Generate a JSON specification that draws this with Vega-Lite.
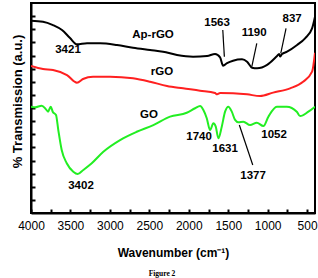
{
  "$schema": "https://vega.github.io/schema/vega-lite/v6.json",
  "width": 284,
  "height": 210,
  "autosize": "none",
  "padding": {"left": 31, "top": 3, "right": 3, "bottom": 65},
  "background": "white",
  "config": {
    "font": "Liberation Sans",
    "view": {"stroke": "#000", "strokeWidth": 2},
    "axis": {"grid": false, "domainColor": "#000", "domainWidth": 2, "tickColor": "#000", "tickWidth": 2, "labelColor": "#000", "titleColor": "#000"}
  },
  "title": {"text": "Figure 2", "orient": "bottom", "anchor": "middle", "font": "Liberation Serif", "fontSize": 7.5, "fontWeight": "bold", "color": "#000", "dx": -11, "offset": 12},
  "datasets": {
    "spectra": [
      {"w": 4000, "t": 14.65, "s": "Ap-rGO"}, {"w": 3848, "t": 14.58, "s": "Ap-rGO"}, {"w": 3721, "t": 14.32, "s": "Ap-rGO"}, {"w": 3607, "t": 13.94, "s": "Ap-rGO"}, {"w": 3505, "t": 13.33, "s": "Ap-rGO"}, {"w": 3417, "t": 12.85, "s": "Ap-rGO"}, {"w": 3290, "t": 12.93, "s": "Ap-rGO"}, {"w": 3125, "t": 12.93, "s": "Ap-rGO"}, {"w": 2910, "t": 12.8, "s": "Ap-rGO"}, {"w": 2707, "t": 12.59, "s": "Ap-rGO"}, {"w": 2491, "t": 12.42, "s": "Ap-rGO"}, {"w": 2326, "t": 12.29, "s": "Ap-rGO"}, {"w": 2149, "t": 12.04, "s": "Ap-rGO"}, {"w": 1946, "t": 11.91, "s": "Ap-rGO"}, {"w": 1768, "t": 11.96, "s": "Ap-rGO"}, {"w": 1667, "t": 12.11, "s": "Ap-rGO"}, {"w": 1603, "t": 11.86, "s": "Ap-rGO"}, {"w": 1565, "t": 11.22, "s": "Ap-rGO"}, {"w": 1515, "t": 11.41, "s": "Ap-rGO"}, {"w": 1439, "t": 11.6, "s": "Ap-rGO"}, {"w": 1325, "t": 11.71, "s": "Ap-rGO"}, {"w": 1261, "t": 11.53, "s": "Ap-rGO"}, {"w": 1198, "t": 11.07, "s": "Ap-rGO"}, {"w": 1134, "t": 11.02, "s": "Ap-rGO"}, {"w": 1007, "t": 11.28, "s": "Ap-rGO"}, {"w": 881, "t": 11.96, "s": "Ap-rGO"}, {"w": 855, "t": 12.11, "s": "Ap-rGO"}, {"w": 843, "t": 11.92, "s": "Ap-rGO"}, {"w": 818, "t": 12.11, "s": "Ap-rGO"}, {"w": 754, "t": 12.29, "s": "Ap-rGO"}, {"w": 627, "t": 12.8, "s": "Ap-rGO"}, {"w": 526, "t": 13.31, "s": "Ap-rGO"}, {"w": 437, "t": 14.07, "s": "Ap-rGO"}, {"w": 400, "t": 14.96, "s": "Ap-rGO"},
      {"w": 4000, "t": 11.2, "s": "rGO"}, {"w": 3848, "t": 10.97, "s": "rGO"}, {"w": 3721, "t": 10.9, "s": "rGO"}, {"w": 3544, "t": 10.51, "s": "rGO"}, {"w": 3417, "t": 9.93, "s": "rGO"}, {"w": 3341, "t": 10.21, "s": "rGO"}, {"w": 3214, "t": 10.39, "s": "rGO"}, {"w": 2998, "t": 10.39, "s": "rGO"}, {"w": 2707, "t": 10.26, "s": "rGO"}, {"w": 2491, "t": 10.0, "s": "rGO"}, {"w": 2276, "t": 9.68, "s": "rGO"}, {"w": 2073, "t": 9.5, "s": "rGO"}, {"w": 1857, "t": 9.32, "s": "rGO"}, {"w": 1667, "t": 9.14, "s": "rGO"}, {"w": 1641, "t": 9.04, "s": "rGO"}, {"w": 1603, "t": 9.14, "s": "rGO"}, {"w": 1439, "t": 9.12, "s": "rGO"}, {"w": 1261, "t": 9.04, "s": "rGO"}, {"w": 1096, "t": 8.91, "s": "rGO"}, {"w": 931, "t": 9.17, "s": "rGO"}, {"w": 716, "t": 9.5, "s": "rGO"}, {"w": 551, "t": 10.0, "s": "rGO"}, {"w": 437, "t": 10.77, "s": "rGO"}, {"w": 400, "t": 12.21, "s": "rGO"},
      {"w": 4000, "t": 8.1, "s": "GO"}, {"w": 3949, "t": 8.05, "s": "GO"}, {"w": 3864, "t": 8.18, "s": "GO"}, {"w": 3810, "t": 7.9, "s": "GO"}, {"w": 3784, "t": 7.72, "s": "GO"}, {"w": 3750, "t": 8.1, "s": "GO"}, {"w": 3725, "t": 7.72, "s": "GO"}, {"w": 3683, "t": 7.47, "s": "GO"}, {"w": 3654, "t": 6.32, "s": "GO"}, {"w": 3611, "t": 4.8, "s": "GO"}, {"w": 3547, "t": 3.79, "s": "GO"}, {"w": 3464, "t": 3.15, "s": "GO"}, {"w": 3408, "t": 2.97, "s": "GO"}, {"w": 3337, "t": 3.28, "s": "GO"}, {"w": 3230, "t": 3.79, "s": "GO"}, {"w": 3083, "t": 4.67, "s": "GO"}, {"w": 2871, "t": 5.56, "s": "GO"}, {"w": 2660, "t": 6.19, "s": "GO"}, {"w": 2449, "t": 6.7, "s": "GO"}, {"w": 2237, "t": 7.34, "s": "GO"}, {"w": 2026, "t": 7.64, "s": "GO"}, {"w": 1920, "t": 7.98, "s": "GO"}, {"w": 1857, "t": 8.15, "s": "GO"}, {"w": 1815, "t": 7.85, "s": "GO"}, {"w": 1772, "t": 7.22, "s": "GO"}, {"w": 1730, "t": 6.32, "s": "GO"}, {"w": 1688, "t": 6.83, "s": "GO"}, {"w": 1658, "t": 6.58, "s": "GO"}, {"w": 1625, "t": 5.69, "s": "GO"}, {"w": 1582, "t": 6.58, "s": "GO"}, {"w": 1540, "t": 7.72, "s": "GO"}, {"w": 1498, "t": 8.1, "s": "GO"}, {"w": 1455, "t": 7.72, "s": "GO"}, {"w": 1413, "t": 7.09, "s": "GO"}, {"w": 1371, "t": 6.91, "s": "GO"}, {"w": 1308, "t": 6.96, "s": "GO"}, {"w": 1223, "t": 6.7, "s": "GO"}, {"w": 1138, "t": 6.88, "s": "GO"}, {"w": 1054, "t": 6.63, "s": "GO"}, {"w": 991, "t": 7.34, "s": "GO"}, {"w": 884, "t": 8.1, "s": "GO"}, {"w": 758, "t": 8.1, "s": "GO"}, {"w": 631, "t": 7.72, "s": "GO"}, {"w": 589, "t": 7.39, "s": "GO"}, {"w": 484, "t": 7.72, "s": "GO"}, {"w": 400, "t": 8.1, "s": "GO"}
    ],
    "leaders": [
      {"w": 1549, "t": 11.91, "w2": 1569, "t2": 13.94},
      {"w": 1201, "t": 11.15, "w2": 1138, "t2": 12.93},
      {"w": 834, "t": 12.17, "w2": 767, "t2": 14.07},
      {"w": 1359, "t": 6.7, "w2": 1189, "t2": 3.66}
    ],
    "labels": [
      {"w": 3531, "t": 12.42, "label": "3421"},
      {"w": 2453, "t": 13.56, "label": "Ap-rGO"},
      {"w": 1641, "t": 14.48, "label": "1563"},
      {"w": 1172, "t": 13.71, "label": "1190"},
      {"w": 690, "t": 14.78, "label": "837"},
      {"w": 2339, "t": 10.74, "label": "rGO"},
      {"w": 2504, "t": 7.47, "label": "GO"},
      {"w": 1870, "t": 5.79, "label": "1740"},
      {"w": 1540, "t": 4.88, "label": "1631"},
      {"w": 1185, "t": 2.82, "label": "1377"},
      {"w": 919, "t": 5.94, "label": "1052"},
      {"w": 3366, "t": 2.06, "label": "3402"}
    ]
  },
  "layer": [
    {
      "data": {"name": "spectra"},
      "mark": {"type": "line", "strokeWidth": 2, "interpolate": "monotone", "clip": true},
      "encoding": {
        "x": {"field": "w", "type": "quantitative",
          "scale": {"domain": [4000, 400], "nice": false, "zero": false},
          "axis": {"title": "Wavenumber (cm⁻¹)", "values": [4000, 3750, 3500, 3250, 3000, 2750, 2500, 2250, 2000, 1750, 1500, 1250, 1000, 750, 500], "tickCount": 20, "format": "d", "labelExpr": "datum.value % 500 == 0 ? datum.value : ''", "tickSize": -4, "labelPadding": 11, "labelFontSize": 12, "labelFlush": false, "labelOverlap": false, "titleFontSize": 12, "titleFontWeight": "bold", "titleBaseline": "alphabetic", "titleY": 43}},
        "y": {"field": "t", "type": "quantitative",
          "scale": {"domain": [0, 16], "nice": false, "zero": false},
          "axis": {"title": "% Transmission (a.u.)", "values": [1, 2, 3, 4, 5, 6, 7, 8, 9, 10, 11, 12, 13, 14, 15], "tickCount": 20, "labelExpr": "''", "labelOverlap": false, "labelPadding": 0, "tickSize": -4, "titleFontSize": 13, "titleFontWeight": "bold", "titleAngle": -90, "titleAlign": "center", "titleBaseline": "alphabetic", "titleX": -10, "titleY": 98}},
        "color": {"field": "s", "type": "nominal", "legend": null,
          "scale": {"domain": ["Ap-rGO", "rGO", "GO"], "range": ["#000000", "#ff2020", "#22ee22"]}},
        "order": {"field": "w", "type": "quantitative", "sort": "descending"}
      }
    },
    {
      "data": {"name": "leaders"},
      "mark": {"type": "rule", "color": "#000", "strokeWidth": 1.2},
      "encoding": {
        "x": {"field": "w", "type": "quantitative"},
        "y": {"field": "t", "type": "quantitative"},
        "x2": {"field": "w2"},
        "y2": {"field": "t2"}
      }
    },
    {
      "data": {"name": "labels"},
      "mark": {"type": "text", "font": "Liberation Sans", "fontSize": 11.5, "fontWeight": "bold", "color": "#000", "align": "center", "baseline": "middle"},
      "encoding": {
        "x": {"field": "w", "type": "quantitative"},
        "y": {"field": "t", "type": "quantitative"},
        "text": {"field": "label"}
      }
    }
  ]
}
